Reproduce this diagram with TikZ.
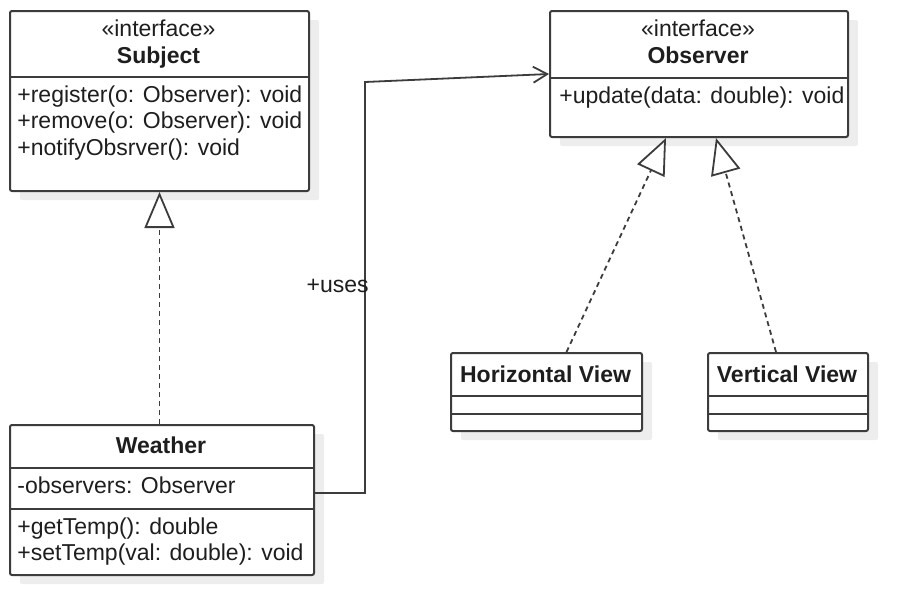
\documentclass[tikz,border=0pt]{standalone}
\usepackage{fontspec}
\setmainfont{Liberation Sans}
\usepackage{tikz}
\usetikzlibrary{positioning,arrows.meta,calc,shadows}
\definecolor{edge}{HTML}{3C3C3C}
\definecolor{shade}{HTML}{EDEDED}
\definecolor{ink}{HTML}{1E1E1E}

\begin{document}
\begin{tikzpicture}[x=0.5pt,y=-0.5pt,font=\fontsize{11.5pt}{13pt}\selectfont,text=ink,
  cls/.style={draw=edge,fill=white,line width=1pt,rounded corners=1pt,anchor=north west,inner sep=0pt,
              drop shadow={shadow xshift=5pt,shadow yshift=-4.5pt,fill=shade,opacity=1}},
  sep/.style={draw=edge,line width=1pt},
  row/.style={inner sep=0pt,anchor=base west},
  ster/.style={inner sep=0pt,anchor=base},
  ttl/.style={inner sep=0pt,anchor=base,font=\fontsize{11.5pt}{13pt}\selectfont\bfseries},
  real/.style={draw=edge,line width=.9pt,dash pattern=on 2.5pt off 2pt,
               -{Triangle[open,length=18pt,width=15pt,fill=white]}},
  assoc/.style={draw=edge,line width=.9pt,-{Straight Barb[length=7pt,width=8pt]}}]
\useasboundingbox (0,0) rectangle (909,594);
% Subject
\node[cls,minimum width=149.5pt,minimum height=90pt] (subject) at (9,10) {};
\draw[sep] (subject.west |- 0,77) -- (subject.east |- 0,77);
\node[ster] (subst) at (158.5,36) {«interface»};
\node[ttl] (subname) at (158.5,63) {Subject};
\node[row] (sm1) at (17,102) {+register(o: Observer): void};
\node[row] (sm2) at (17,128.5) {+remove(o: Observer): void};
\node[row] (sm3) at (17,155) {+notifyObsrver(): void};
% Observer
\node[cls,minimum width=149pt,minimum height=63pt] (observer) at (549,10) {};
\draw[sep] (observer.west |- 0,78) -- (observer.east |- 0,78);
\node[ster] (obsst) at (698,36) {«interface»};
\node[ttl] (obsname) at (698,63) {Observer};
\node[row] (om1) at (559,103) {+update(data: double): void};
% Weather
\node[cls,minimum width=152pt,minimum height=75pt] (weather) at (9,424) {};
\draw[sep] (weather.west |- 0,468) -- (weather.east |- 0,468);
\draw[sep] (weather.west |- 0,509) -- (weather.east |- 0,509);
\node[ttl] (wname) at (161,453) {Weather};
\node[row] (wattr) at (17,493) {-observers: Observer};
\node[row] (wm1) at (17,534) {+getTemp(): double};
\node[row] (wm2) at (17,560) {+setTemp(val: double): void};
% views
\node[cls,minimum width=95.5pt,minimum height=39pt] (hview) at (450,352) {};
\draw[sep] (hview.west |- 0,396) -- (hview.east |- 0,396);
\draw[sep] (hview.west |- 0,414) -- (hview.east |- 0,414);
\node[ttl] (hname) at (545.5,382) {Horizontal View};
\node[cls,minimum width=80pt,minimum height=39pt] (vview) at (707,352) {};
\draw[sep] (vview.west |- 0,396) -- (vview.east |- 0,396);
\draw[sep] (vview.west |- 0,414) -- (vview.east |- 0,414);
\node[ttl] (vname) at (787,382) {Vertical View};
% links
\draw[real] (subject.south |- weather.north) -- (subject.south);
\draw[real] ($(hview.north)+(20,0)$) -- ($(observer.south)+(-33,0)$);
\draw[real] ($(vview.north)+(-12,0)$) -- ($(observer.south)+(17,0)$);
\coordinate (wout) at (weather.east |- wattr.base);
\draw[assoc] (wout) -- ++(50,0) coordinate (bend) -- ($(bend |- observer.west)+(0,8)$) -- (observer.west);
\node[row,anchor=base east] (uses) at (369,292) {+uses};
\end{tikzpicture}
\end{document}
